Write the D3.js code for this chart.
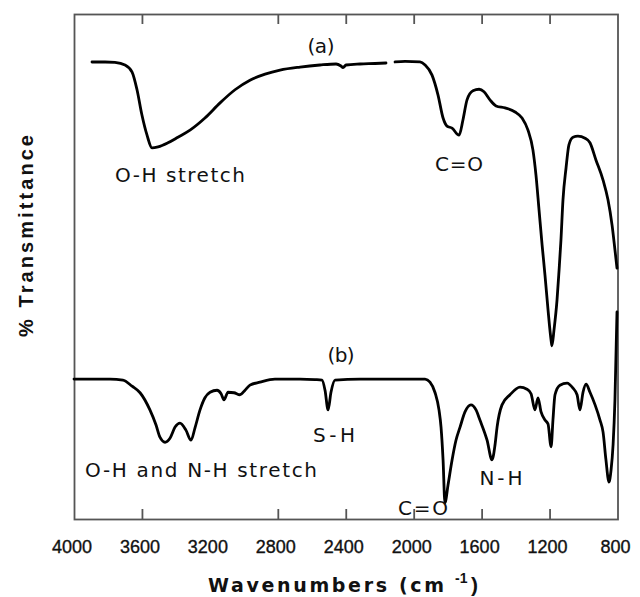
<!DOCTYPE html>
<html>
<head>
<meta charset="utf-8">
<script src="https://cdn.jsdelivr.net/npm/d3@7"></script>
<style>
  body { margin: 0; background: #fff; }
  svg { display: block; font-family: "Liberation Sans", Arial, sans-serif; }
</style>
</head>
<body>
<svg id="ir" width="640" height="597"></svg>
<script>
// spectrum (a) - wavenumber (cm-1) / transmittance (arb. %)
const waveA = [3894, 3817, 3759, 3700, 3658, 3629, 3600, 3570, 3541, 3505, 3447, 3388, 3317, 3229, 3140, 3052, 2964, 2875, 2787, 2669,
  2552, 2457, 2428, 2416, 2398, 2316, 2228, 2163, 2135, 2110, 2051, 1963, 1933, 1892, 1857, 1827, 1804, 1774, 1733, 1710,
  1686, 1651, 1615, 1586, 1551, 1515, 1462, 1403, 1362, 1327, 1298, 1280, 1262, 1244, 1227, 1209, 1191, 1186, 1174, 1156,
  1144, 1133, 1121, 1103, 1086, 1062, 1033, 991, 962, 927, 885, 856, 832, 815, 803];
const transA = [90.5, 90.5, 90.4, 89.9, 88.5, 85.0, 80.0, 76.0, 73.5, 73.7, 74.5, 75.6, 77.0, 79.4, 82.4, 85.0, 86.9, 88.1, 88.9, 89.5,
  89.9, 90.1, 89.7, 89.4, 89.9, 90.1, 90.2, 90.3, null, 90.5, 90.6, 90.5, 89.9, 87.9, 84.0, 79.4, 77.8, 77.4, 76.0, 79.0,
  83.0, 84.8, 85.1, 84.6, 83.0, 81.8, 81.4, 80.6, 79.4, 77.0, 73.1, 68.1, 61.2, 54.3, 48.3, 41.4, 35.4, 34.3, 37.4, 43.4,
  49.3, 55.2, 63.2, 69.5, 74.1, 75.6, 75.8, 75.4, 74.5, 71.1, 67.1, 63.2, 58.2, 53.3, 49.7];

// spectrum (b)
const waveB = [4000, 3906, 3788, 3712, 3658, 3611, 3553, 3517, 3494, 3464, 3435, 3405, 3376, 3341, 3311, 3288, 3258, 3229, 3199, 3158,
  3134, 3117, 3093, 3058, 3023, 2993, 2964, 2905, 2817, 2669, 2581, 2540, 2522, 2504, 2487, 2463, 2316, 2081, 1933, 1904,
  1874, 1851, 1839, 1827, 1816, 1798, 1774, 1751, 1727, 1698, 1663, 1633, 1610, 1568, 1539, 1521, 1509, 1480, 1433, 1374,
  1333, 1309, 1286, 1268, 1250, 1227, 1209, 1191, 1180, 1168, 1139, 1097, 1062, 1038, 1021, 1003, 985, 962, 932, 903,
  885, 868, 850, 838, 826, 815, 803];
const transB = [27.7, 27.7, 27.7, 27.5, 26.3, 25.0, 21.6, 18.6, 16.2, 15.2, 16.0, 18.2, 19.0, 17.6, 15.6, 18.0, 21.6, 24.0, 25.1, 25.5,
  24.8, 23.6, 25.1, 25.0, 24.6, 25.5, 26.5, 27.1, 27.7, 27.7, 27.6, 27.5, 25.5, 21.6, 25.1, 27.5, 27.7, 27.7, 27.7, 27.1,
  25.0, 21.6, 18.2, 11.7, 3.2, 6.7, 11.7, 15.6, 18.2, 21.2, 22.6, 21.6, 19.6, 15.6, 11.7, 14.7, 18.2, 22.6, 24.6, 26.1,
  25.7, 24.8, 21.6, 24.0, 21.2, 19.6, 18.8, 14.3, 19.6, 24.6, 26.5, 26.9, 25.9, 24.6, 21.6, 25.1, 26.7, 25.1, 22.6, 19.6,
  17.2, 11.7, 7.3, 9.7, 14.7, 23.6, 41.0];

const tickLabels = [4000, 3600, 3200, 2800, 2400, 2000, 1600, 1200, 800];
const tickMarks = [3600, 2800, 2400, 2000, 1600, 1200];

const labelTexts = ["(a)", "O-H stretch", "C=O", "(b)", "S-H", "O-H and N-H stretch", "N-H", "C=O"];

const margin = { top: 14, right: 22.5, bottom: 78, left: 74 };
const W = 640, H = 597;
const width = W - margin.left - margin.right;
const height = H - margin.top - margin.bottom;

const svg = d3.select("#ir");
const g = svg.append("g").attr("transform", `translate(${margin.left},${margin.top})`);

const x = d3.scaleLinear().domain([4000, 800]).range([0, width]);
const y = d3.scaleLinear().domain([0, 100]).range([height, 0]);

const frameColor = "#555";

// frame
g.append("rect")
  .attr("x", 0.5).attr("y", 0.5)
  .attr("width", width).attr("height", height)
  .attr("fill", "none").attr("stroke", frameColor).attr("stroke-width", 1.8);

// inside ticks, top and bottom
const tickLen = 10;
g.append("g")
  .attr("transform", `translate(0,${height})`)
  .call(d3.axisBottom(x).tickValues(tickMarks).tickSize(-tickLen).tickFormat(""))
  .call(a => a.select(".domain").remove())
  .call(a => a.selectAll("line").attr("stroke", frameColor).attr("stroke-width", 1.8));
g.append("g")
  .call(d3.axisTop(x).tickValues(tickMarks).tickSize(-tickLen).tickFormat(""))
  .call(a => a.select(".domain").remove())
  .call(a => a.selectAll("line").attr("stroke", frameColor).attr("stroke-width", 1.8));

// tick labels
g.append("g")
  .selectAll("text")
  .data(tickLabels)
  .enter()
  .append("text")
  .attr("x", d => x(d) - 2)
  .attr("y", height + 34)
  .attr("text-anchor", "middle")
  .style("font-size", "18px")
  .attr("fill", "#111")
  .attr("stroke", "#111")
  .attr("stroke-width", 0.35)
  .text(d => d);

// spectra
const line = d3.line()
  .defined(d => d[1] !== null)
  .x(d => x(d[0]))
  .y(d => y(d[1]))
  .curve(d3.curveMonotoneX);

[[waveA, transA], [waveB, transB]].forEach(([w, t]) => {
  g.append("path")
    .datum(w.map((v, i) => [v, t[i]]))
    .attr("fill", "none")
    .attr("stroke", "#000")
    .attr("stroke-width", 2.8)
    .attr("stroke-linejoin", "round")
    .attr("stroke-linecap", "round")
    .attr("d", line);
});

// annotation anchors (wavenumber, transmittance) and fitted widths
const labelAt = [
  [2546, 92.3, 27], [3376, 66.7, 130], [1733, 68.9, 48],
  [2428, 31.1, 27], [2469, 15.2, 42], [3252, 8.3, 232],
  [1486, 6.7, 43], [1945, 0.8, 50]
];
labelTexts.forEach((txt, i) => {
  const [w, t, len] = labelAt[i];
  g.append("text")
    .attr("x", x(w) - len / 2)
    .attr("y", y(t))
    .attr("textLength", len)
    .attr("lengthAdjust", "spacing")
    .style("font-family", "'DejaVu Sans', sans-serif")
    .style("font-size", "20px")
    .attr("fill", "#111")
    .text(txt);
});

// axis titles
svg.append("text")
  .attr("x", 208).attr("y", 592)
  .attr("textLength", 236).attr("lengthAdjust", "spacing")
  .style("font-family", "'DejaVu Sans', sans-serif")
  .style("font-size", "19px").style("font-weight", "bold")
  .attr("fill", "#111")
  .text("Wavenumbers (cm");
svg.append("text")
  .attr("x", 455).attr("y", 583)
  .style("font-size", "14px").style("font-weight", "bold")
  .attr("fill", "#111")
  .text("-1");
svg.append("text")
  .attr("x", 471).attr("y", 592)
  .style("font-size", "21px").style("font-weight", "bold")
  .attr("fill", "#111")
  .text(")");

svg.append("text")
  .attr("transform", "translate(33,236) rotate(-90)")
  .attr("x", -101).attr("y", 0)
  .attr("textLength", 202).attr("lengthAdjust", "spacing")
  .style("font-size", "20px").style("font-weight", "bold")
  .attr("fill", "#111")
  .text("% Transmittance");
</script>
</body>
</html>
